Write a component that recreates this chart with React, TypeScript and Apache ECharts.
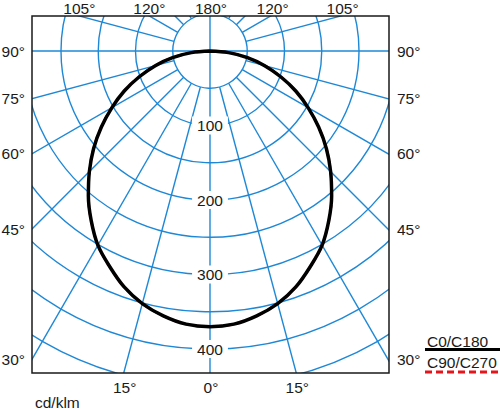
import React, { useEffect, useRef } from "react";
import * as echarts from "echarts";

// Gamma angles (degrees from nadir) and luminous intensity (cd/klm)
const gammaAngles = [0, 5, 10, 15, 20, 25, 30, 35, 40, 45, 50, 55, 60, 65, 70, 75, 80, 85, 90];
const c0c180 = [370, 368, 361, 351, 337, 319, 301, 278, 254, 229, 204, 178, 152, 127, 101, 76, 51, 25, 0];
const c90c270 = [370, 368, 361, 351, 337, 319, 301, 278, 254, 229, 204, 178, 152, 127, 101, 76, 51, 25, 0];

// Axis / tick definitions
const ringLabels = [100, 200, 300, 400];
const sideTicks = [90, 75, 60, 45, 30];
const topTicks = [105, 120, 180];
const bottomTicks = [0, 15];
const legendNames = ["C0/C180", "C90/C270"];
const unitLabel = "cd/klm";

const RADIUS_MAX = 500;
const RING_STEP = 50;
const RADIAL_STEP = 15;

// layout
const CX = 210;
const CY = 51;
const PX_PER_UNIT = 0.745;
const BOX = { left: 32, top: 16, right: 389, bottom: 373 };
const BLUE = "#1e88d6";
const TEXT = "#1a1a1a";
const FAMILY = '"Liberation Sans", Arial, sans-serif';
const FONT = `15.5px ${FAMILY}`;

const deg = (a: number) => (a * Math.PI) / 180;

export default function App() {
  const ref = useRef<HTMLDivElement>(null);

  useEffect(() => {
    if (!ref.current) return;
    const chart = echarts.init(ref.current, undefined, { renderer: "svg" });

    const radialSeries: any[] = [];
    for (let a = 0; a < 360; a += RADIAL_STEP) {
      const start = a % 90 === 0 ? 0 : RING_STEP;
      radialSeries.push({
        type: "line",
        coordinateSystem: "polar",
        data: [
          [start, a],
          [RADIUS_MAX, a],
        ],
        symbol: "none",
        silent: true,
        lineStyle: { color: BLUE, width: 1.4 },
        z: 2,
      });
    }

    const curve = (vals: number[]) => {
      const pts: number[][] = [];
      for (let i = gammaAngles.length - 1; i >= 0; i--) pts.push([vals[i], gammaAngles[i]]);
      for (let i = 1; i < gammaAngles.length; i++) pts.push([vals[i], 360 - gammaAngles[i]]);
      return pts;
    };

    const txt = (text: string, x: number, y: number, align: string, z = 102) => ({
      type: "text",
      z,
      silent: true,
      style: {
        text,
        x,
        y,
        font: FONT,
        fill: TEXT,
        align,
        verticalAlign: "middle",
        textAlign: align,
        textVerticalAlign: "middle",
      },
    });

    const graphics: any[] = [
      { type: "rect", z: 100, silent: true, shape: { x: 0, y: 0, width: 500, height: BOX.top }, style: { fill: "#fff" } },
      { type: "rect", z: 100, silent: true, shape: { x: 0, y: BOX.bottom, width: 500, height: 409 - BOX.bottom }, style: { fill: "#fff" } },
      { type: "rect", z: 100, silent: true, shape: { x: 0, y: 0, width: BOX.left, height: 409 }, style: { fill: "#fff" } },
      { type: "rect", z: 100, silent: true, shape: { x: BOX.right, y: 0, width: 500 - BOX.right, height: 409 }, style: { fill: "#fff" } },
      {
        type: "rect",
        z: 101,
        silent: true,
        shape: { x: BOX.left, y: BOX.top, width: BOX.right - BOX.left, height: BOX.bottom - BOX.top },
        style: { fill: "none", stroke: "#1a1a1a", lineWidth: 1.5 },
      },
    ];

    // side labels
    sideTicks.forEach((t) => {
      const dx = CX - BOX.left;
      const y = t === 90 ? CY : CY + dx / Math.tan(deg(t));
      graphics.push(txt(`${t}°`, BOX.left - 7, y, "right"));
      graphics.push(txt(`${t}°`, BOX.right + 8, y, "left"));
    });
    // top labels
    topTicks.forEach((t) => {
      const dy = CY - BOX.top;
      const dx = t === 180 ? 0 : dy / Math.tan(deg(t - 90));
      const y = 8;
      if (t === 180) graphics.push(txt(`${t}°`, CX + 1, y, "center"));
      else {
        graphics.push(txt(`${t}°`, CX - dx, y, "center"));
        graphics.push(txt(`${t}°`, CX + dx + 2, y, "center"));
      }
    });
    // bottom labels
    bottomTicks.forEach((t) => {
      const dy = BOX.bottom - CY;
      const dx = dy * Math.tan(deg(t));
      const y = 387;
      if (t === 0) graphics.push(txt(`${t}°`, CX + 1, y, "center"));
      else {
        graphics.push(txt(`${t}°`, CX - dx + 1, y, "center"));
        graphics.push(txt(`${t}°`, CX + dx + 1, y, "center"));
      }
    });
    graphics.push(txt(unitLabel, 35, 402, "left"));

    // legend
    graphics.push(txt(legendNames[0], 427, 341, "left"));
    graphics.push({
      type: "line",
      z: 102,
      silent: true,
      shape: { x1: 425, y1: 349.5, x2: 500, y2: 349.5 },
      style: { stroke: "#000", lineWidth: 3 },
    });
    graphics.push(txt(legendNames[1], 427, 362.5, "left"));
    graphics.push({
      type: "line",
      z: 102,
      silent: true,
      shape: { x1: 425, y1: 372, x2: 500, y2: 372 },
      style: { stroke: "#e8141c", lineWidth: 3, lineDash: [7, 4] },
    });

    const option: any = {
      animation: false,
      polar: { center: [CX, CY], radius: RADIUS_MAX * PX_PER_UNIT },
      angleAxis: {
        type: "value",
        min: 0,
        max: 360,
        startAngle: 270,
        clockwise: false,
        axisLine: { show: false },
        axisTick: { show: false },
        axisLabel: { show: false },
        splitLine: { show: false },
      },
      radiusAxis: {
        type: "value",
        min: 0,
        max: RADIUS_MAX,
        interval: RING_STEP,
        axisLine: { show: false },
        axisTick: { show: false },
        axisLabel: { show: false },
        splitLine: { show: true, lineStyle: { color: BLUE, width: 1.4 } },
      },
      series: [
        ...radialSeries,
        {
          name: legendNames[1],
          type: "line",
          coordinateSystem: "polar",
          data: curve(c90c270),
          smooth: 0.35,
          symbol: "none",
          silent: true,
          lineStyle: { color: "#e8141c", width: 2.5, type: [7, 4] },
          z: 3,
        },
        {
          name: legendNames[0],
          type: "line",
          coordinateSystem: "polar",
          data: curve(c0c180),
          smooth: 0.35,
          symbol: "none",
          silent: true,
          lineStyle: { color: "#000", width: 3.5 },
          z: 4,
        },
        {
          type: "scatter",
          coordinateSystem: "polar",
          data: ringLabels.map((r) => [r, 0]),
          symbolSize: 1,
          itemStyle: { color: "#fff", opacity: 1 },
          silent: true,
          z: 5,
          label: {
            show: true,
            position: "inside",
            formatter: (p: any) => String(p.value[0]),
            fontSize: 15.5,
            fontFamily: FAMILY,
            color: TEXT,
            opacity: 1,
            textBorderWidth: 0,
            backgroundColor: "#fff",
            padding: [1, 5],
          },
        },
      ],
      graphic: { elements: graphics },
    };

    chart.setOption(option);
    return () => chart.dispose();
  }, []);

  return (
    <div
      ref={ref}
      style={{ position: "absolute", left: 0, top: 0, width: 500, height: 409, background: "#fff" }}
    />
  );
}
